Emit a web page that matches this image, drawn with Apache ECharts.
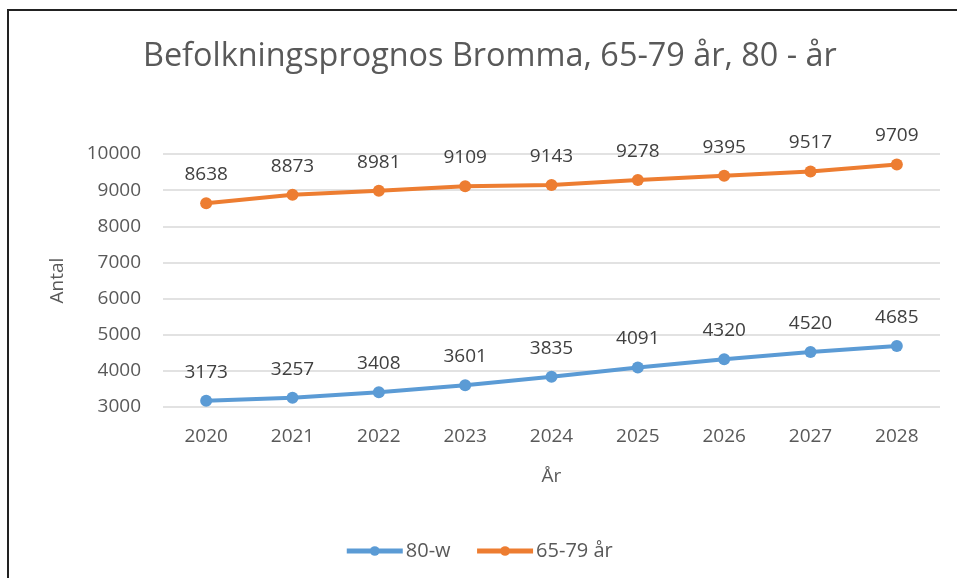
<!DOCTYPE html>
<html><head><meta charset="utf-8">
<script src="https://cdn.jsdelivr.net/npm/echarts@6/dist/echarts.min.js"></script>
<style>html,body{margin:0;padding:0;background:#fff}#c{width:957px;height:578px}
#frame{position:absolute;left:7px;top:9px;width:960px;height:600px;border-left:2px solid #222;border-top:2px solid #222;pointer-events:none}</style>
</head><body><div id="c"></div><div id="frame"></div>
<script>
const years = ['2020','2021','2022','2023','2024','2025','2026','2027','2028'];
const s80w = [3173,3257,3408,3601,3835,4091,4320,4520,4685];
const s6579 = [8638,8873,8981,9109,9143,9278,9395,9517,9709];
const titleText = 'Befolkningsprognos Bromma, 65-79 år, 80 - år';
const FONT = 'Open Sans';
const chart = echarts.init(document.getElementById('c'));
const lbl = {show:true, position:'top', distance:13, color:'#404040', fontSize:19, fontFamily:FONT};
chart.setOption({
  animation:false,
  title:{text:titleText,left:138,top:36,textStyle:{fontFamily:FONT,fontSize:32.4,fontWeight:'normal',color:'#595959'}},
  grid:{left:163,right:17,top:154,bottom:171,containLabel:false},
  legend:{top:536,left:'center',itemWidth:56,itemHeight:12,itemGap:24,
    lineStyle:{width:5},
    textStyle:{fontFamily:FONT,fontSize:20,color:'#595959',padding:[0,0,0,-2]},
    data:['80-w','65-79 år']},
  xAxis:{type:'category',data:years,boundaryGap:true,name:'År',nameLocation:'middle',nameGap:60,
    nameTextStyle:{fontFamily:FONT,fontSize:19,color:'#595959'},
    axisLine:{show:false},axisTick:{show:false},
    axisLabel:{fontFamily:FONT,fontSize:19,color:'#595959',margin:20}},
  yAxis:{type:'value',min:3000,max:10000,interval:1000,name:'Antal',nameLocation:'middle',nameGap:96,nameRotate:90,
    nameTextStyle:{fontFamily:FONT,fontSize:19,color:'#595959'},
    axisLine:{show:false},axisTick:{show:false},
    axisLabel:{fontFamily:FONT,fontSize:19,color:'#595959',margin:22,formatter:v=>String(v)},
    splitLine:{lineStyle:{color:'#d9d9d9',width:1.5}}},
  series:[
    {name:'80-w',type:'line',data:s80w,color:'#5B9BD5',symbol:'circle',symbolSize:12,lineStyle:{width:4},label:lbl},
    {name:'65-79 år',type:'line',data:s6579,color:'#ED7D31',symbol:'circle',symbolSize:12,lineStyle:{width:4},label:lbl}
  ]
});
</script></body></html>
